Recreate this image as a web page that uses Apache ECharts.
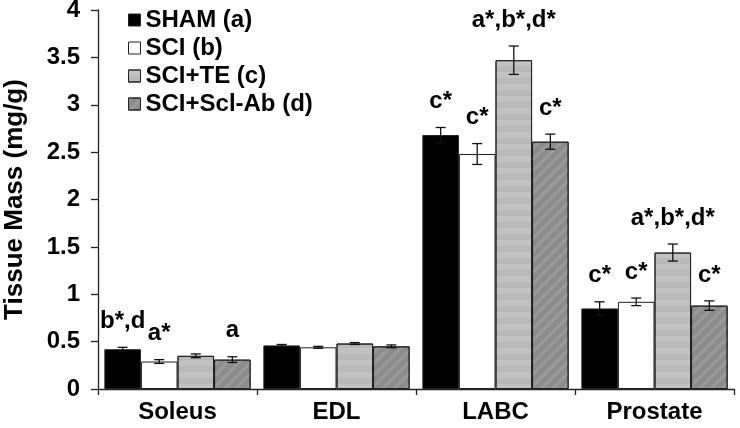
<!DOCTYPE html>
<html>
<head>
<meta charset="utf-8">
<script src="https://cdn.jsdelivr.net/npm/echarts@6/dist/echarts.min.js"></script>
<style>
  html, body { margin: 0; padding: 0; background: #fff; }
  #main { width: 740px; height: 428px; }
</style>
</head>
<body>
<div id="main"></div>
<script>
// tissues on the x axis
const categories = ['Soleus', 'EDL', 'LABC', 'Prostate']
const groups = ['SHAM (a)', 'SCI (b)', 'SCI+TE (c)', 'SCI+Scl-Ab (d)']

// mean tissue mass (mg/g) per group
const shamMass = [0.42, 0.46, 2.68, 0.85]
const sciMass = [0.29, 0.44, 2.48, 0.92]
const teMass = [0.35, 0.48, 3.47, 1.44]
const sclAbMass = [0.31, 0.45, 2.61, 0.88]

// error (SEM)
const shamErr = [0.02, 0.01, 0.08, 0.07]
const sciErr = [0.02, 0.01, 0.11, 0.04]
const teErr = [0.02, 0.01, 0.15, 0.09]
const sclAbErr = [0.03, 0.015, 0.08, 0.05]

// significance letters
const shamSig = ['b*,d', '', 'c*', 'c*']
const sciSig = ['a*', '', 'c*', 'c*']
const teSig = ['', '', 'a*,b*,d*', 'a*,b*,d*']
const sclAbSig = ['a', '', 'c*', 'c*']

const yTicks = [0, 0.5, 1, 1.5, 2, 2.5, 3, 3.5, 4]

const values = [shamMass, sciMass, teMass, sclAbMass]
const errors = [shamErr, sciErr, teErr, sclAbErr]
const sigs = [shamSig, sciSig, teSig, sclAbSig]
const colors = ['#000000', '#ffffff', '#b9b9b9', '#8c8c8c']
const decals = [
  null,
  null,
  { symbol: 'rect', dashArrayX: [1, 0], dashArrayY: [6, 6], rotation: 0, color: 'rgba(255,255,255,0.12)' },
  { symbol: 'rect', dashArrayX: [1, 0], dashArrayY: [3, 5], rotation: -Math.PI / 4, color: 'rgba(255,255,255,0.12)' }
]

const FONT = 'Liberation Sans'
const chart = echarts.init(document.getElementById('main'))

function errorSeries (gi) {
  return {
    type: 'custom',
    name: groups[gi] + ' err',
    z: 5,
    renderItem: function (params, api) {
      const ci = api.value(0)
      const v = api.value(1)
      const e = api.value(2)
      const band = api.size([1, 0])[0]
      const bw = band * 0.92 / 4
      const x = api.coord([ci, 0])[0] + (gi - 1.5) * bw
      const hi = api.coord([ci, v + e])[1]
      const lo = api.coord([ci, v - e])[1]
      const cap = 5
      const st = { stroke: '#111', lineWidth: 1.3 }
      const children = [
        { type: 'line', shape: { x1: x, y1: hi, x2: x, y2: lo }, style: st },
        { type: 'line', shape: { x1: x - cap, y1: hi, x2: x + cap, y2: hi }, style: st },
        { type: 'line', shape: { x1: x - cap, y1: lo, x2: x + cap, y2: lo }, style: st }
      ]
      const txt = sigs[gi][ci]
      if (txt) {
        children.push({
          type: 'text',
          x: x,
          y: hi - 14,
          style: {
            text: txt,
            fill: '#000',
            font: 'bold 24px "' + FONT + '"',
            textAlign: 'center',
            textVerticalAlign: 'bottom'
          }
        })
      }
      return { type: 'group', children: children }
    },
    data: categories.map((c, i) => [i, values[gi][i], errors[gi][i]])
  }
}

const barSeries = groups.map((g, gi) => {
  const itemStyle = { color: colors[gi], borderColor: '#222', borderWidth: 1 }
  if (decals[gi]) itemStyle.decal = decals[gi]
  return {
    name: g,
    type: 'bar',
    barGap: '0%',
    barCategoryGap: '8%',
    itemStyle: itemStyle,
    data: values[gi]
  }
})

const options = {
  animation: false,
  textStyle: { fontFamily: FONT },
  grid: { left: 98, right: 6, top: 10, bottom: 39, outerBoundsMode: 'none' },
  legend: {
    data: groups,
    orient: 'vertical',
    left: 128,
    top: 8,
    padding: 0,
    itemWidth: 12,
    itemHeight: 12,
    itemGap: 4,
    icon: 'rect',
    textStyle: { fontFamily: FONT, fontWeight: 'bold', fontSize: 24, lineHeight: 23, color: '#000' },
    itemStyle: { borderColor: '#222', borderWidth: 1 }
  },
  xAxis: {
    type: 'category',
    data: categories,
    axisLine: { lineStyle: { color: '#222', width: 1.3 } },
    axisTick: { show: true, length: 6, lineStyle: { color: '#222', width: 1.3 } },
    axisLabel: { fontFamily: FONT, fontWeight: 'bold', fontSize: 24, color: '#000', margin: 11 }
  },
  yAxis: {
    type: 'value',
    min: 0,
    max: 4,
    interval: 0.5,
    name: 'Tissue Mass (mg/g)',
    nameLocation: 'middle',
    nameGap: 70,
    nameTextStyle: { fontFamily: FONT, fontWeight: 'bold', fontSize: 26, color: '#000' },
    splitLine: { show: false },
    axisLine: { show: true, lineStyle: { color: '#222', width: 1.3 } },
    axisTick: { show: true, length: 7, lineStyle: { color: '#222', width: 1.3 } },
    axisLabel: {
      fontFamily: FONT, fontWeight: 'bold', fontSize: 24, color: '#000', margin: 18,
      formatter: v => yTicks.includes(v) ? String(v) : ''
    }
  },
  series: barSeries.concat(groups.map((g, gi) => errorSeries(gi)))
}
chart.setOption(options)
</script>
</body>
</html>
